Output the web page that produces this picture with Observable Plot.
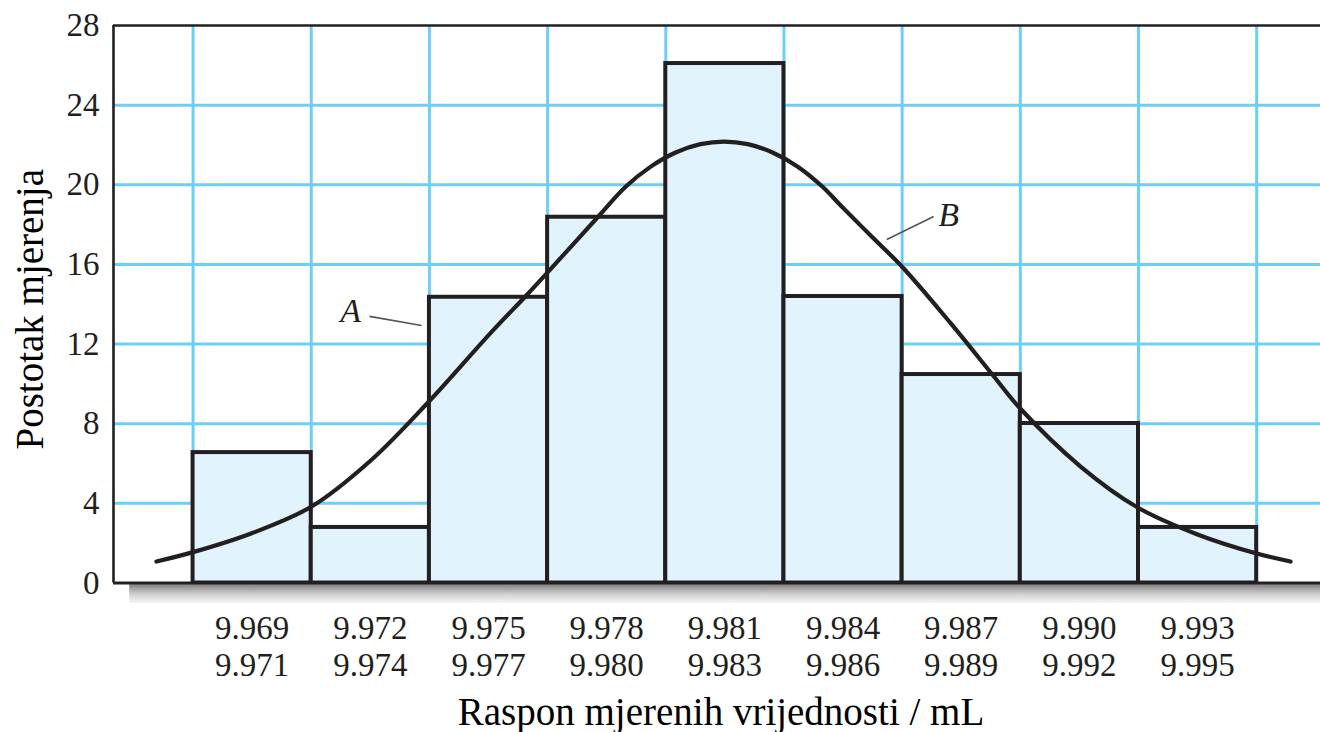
<!DOCTYPE html>
<html>
<head>
<meta charset="utf-8">
<script src="https://cdn.jsdelivr.net/npm/d3@7"></script>
<script src="https://cdn.jsdelivr.net/npm/@observablehq/plot@0.6"></script>
<style>
  html, body { margin: 0; padding: 0; background: #ffffff; }
  #chart { width: 1320px; height: 732px; }
</style>
</head>
<body>
<div id="chart"></div>
<script>
// ---- data ----
const binLow   = ["9.969","9.972","9.975","9.978","9.981","9.984","9.987","9.990","9.993"];
const binHigh  = ["9.971","9.974","9.977","9.980","9.983","9.986","9.989","9.992","9.995"];
const binCenter = [9.970, 9.973, 9.976, 9.979, 9.982, 9.985, 9.988, 9.991, 9.994];
const binStart = [9.9685, 9.9715, 9.9745, 9.9775, 9.9805, 9.9835, 9.9865, 9.9895, 9.9925];
const binEnd   = [9.9715, 9.9745, 9.9775, 9.9805, 9.9835, 9.9865, 9.9895, 9.9925, 9.9955];
const percent  = [6.55, 2.79, 14.35, 18.37, 26.09, 14.39, 10.47, 8.01, 2.79];

const gridX = [9.9685, 9.9715, 9.9745, 9.9775, 9.9805, 9.9835, 9.9865, 9.9895, 9.9925, 9.9955];
const gridY = [4, 8, 12, 16, 20, 24];
const yTicks = [0, 4, 8, 12, 16, 20, 24, 28];

// curve B
const curveX = [9.96757, 9.96850, 9.96999, 9.97151, 9.97301, 9.97448, 9.97605, 9.97694, 9.97750,
                9.97877, 9.97948, 9.98011, 9.98075, 9.98138, 9.98198, 9.98258, 9.98321, 9.98385,
                9.98448, 9.98494, 9.98570, 9.98651, 9.98773, 9.98879, 9.98948, 9.99103, 9.99248,
                9.99398, 9.99550, 9.99636];
const curveY = [1.08, 1.55, 2.50, 3.84, 6.15, 9.10, 12.55, 14.40, 15.60,
                18.37, 19.90, 20.90, 21.62, 22.04, 22.17, 22.04, 21.62, 20.91,
                19.90, 18.96, 17.45, 15.86, 13.05, 10.47, 8.80, 5.85, 3.79,
                2.45, 1.48, 1.08];

const annLabel = ["A", "B"];
const annX     = [9.97250, 9.98768];
const annY     = [13.64, 18.46];
const leadX1   = [9.97298, 9.98730];
const leadY1   = [13.39, 18.41];
const leadX2   = [9.97430, 9.98611];
const leadY2   = [12.93, 17.25];

// ---- tables ----
const bins = binLow.map((l, i) => ({low: l, high: binHigh[i], center: binCenter[i], x1: binStart[i], x2: binEnd[i], y: percent[i]}));
const curve = curveX.map((x, i) => ({x, y: curveY[i]}));
const anns = annLabel.map((t, i) => ({t, x: annX[i], y: annY[i], x1: leadX1[i], y1: leadY1[i], x2: leadX2[i], y2: leadY2[i]}));

const INK = "#231f20";
const BLUE = "#6ccff6";
const FONT = "'Liberation Serif', 'Times New Roman', serif";
const xMin = 9.96648, xMax = 9.99712;

const chart = Plot.plot({
  width: 1320,
  height: 732,
  marginLeft: 113,
  marginRight: 0,
  marginTop: 25,
  marginBottom: 149.5,
  style: {fontFamily: FONT, background: "#ffffff", color: INK, overflow: "visible"},
  x: {domain: [xMin, xMax], axis: null},
  y: {domain: [0, 28], axis: null},
  marks: [
    // grid
    Plot.ruleX(gridX, {y1: 0, y2: 28, stroke: BLUE, strokeWidth: 3}),
    Plot.ruleY(gridY, {x1: xMin, x2: xMax, stroke: BLUE, strokeWidth: 3}),
    // bars
    Plot.rect(bins, {x1: "x1", x2: "x2", y1: 0, y2: "y", fill: "#e1f3fd", stroke: INK, strokeWidth: 4}),
    // curve
    Plot.line(curve, {x: "x", y: "y", curve: "catmull-rom", stroke: INK, strokeWidth: 4.2}),
    // frame
    Plot.ruleY([28], {x1: xMin, x2: xMax, stroke: INK, strokeWidth: 2.6}),
    Plot.ruleX([xMin], {y1: 0, y2: 28, stroke: INK, strokeWidth: 2.6}),
    // shadow under the x-axis
    Plot.rect([0], {x1: 9.96689, x2: xMax, y1: -0.08, y2: -1.03, fill: "url(#shadowGrad)"}),
    Plot.ruleY([0], {x1: xMin, x2: xMax, stroke: INK, strokeWidth: 3}),
    // y ticks
    Plot.axisY({ticks: yTicks, tickSize: 0, tickPadding: 14, fontSize: 33, label: null, tickFormat: d => String(d)}),
    // x tick labels (two lines)
    Plot.text(bins, {x: "center", frameAnchor: "bottom", text: d => d.low + "\n" + d.high, lineAnchor: "middle", lineHeight: 1.1, fontSize: 33, dy: 63, fill: INK}),
    // axis titles
    Plot.text(["Raspon mjerenih vrijednosti / mL"], {frameAnchor: "bottom", textAnchor: "middle", dy: 130, dx: 4, fontSize: 39, fill: "#000", lineAnchor: "middle"}),
    Plot.text(["Postotak mjerenja"], {frameAnchor: "left", textAnchor: "middle", rotate: -90, dx: -83, dy: 5, fontSize: 39, fill: "#000", lineAnchor: "middle"}),
    // annotations
    Plot.link(anns, {x1: "x1", y1: "y1", x2: "x2", y2: "y2", stroke: "#555", strokeWidth: 1.6}),
    Plot.text(anns, {x: "x", y: "y", text: "t", fontStyle: "italic", fontSize: 34, fill: INK})
  ]
});

// gradient definition for the shadow
const defs = d3.select(chart).insert("defs", ":first-child");
const grad = defs.append("linearGradient").attr("id", "shadowGrad").attr("x1", 0).attr("y1", 0).attr("x2", 0).attr("y2", 1);
grad.append("stop").attr("offset", "0%").attr("stop-color", "#808080");
grad.append("stop").attr("offset", "55%").attr("stop-color", "#d2d2d2");
grad.append("stop").attr("offset", "100%").attr("stop-color", "#f5f5f5");

document.getElementById("chart").appendChild(chart);
</script>
</body>
</html>
